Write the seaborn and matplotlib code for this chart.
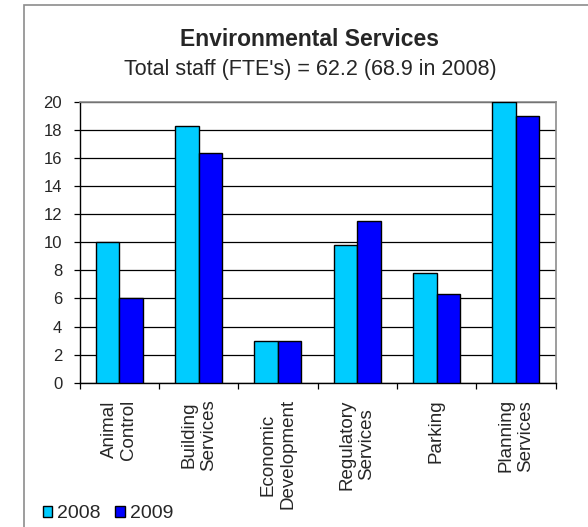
import matplotlib
matplotlib.use("Agg")
import matplotlib.pyplot as plt
from matplotlib.patches import Rectangle
from matplotlib.ticker import MultipleLocator, FixedLocator
import seaborn as sns
import pandas as pd

# Staff (FTE) by service area
categories = ["Animal\nControl", "Building\nServices", "Economic\nDevelopment",
              "Regulatory\nServices", "Parking", "Planning\nServices"]
years = ["2008", "2009"]
fte_2008 = [10.0, 18.3, 3.0, 9.8, 7.8, 20.0]
fte_2009 = [6.0, 16.4, 3.0, 11.5, 6.3, 19.0]
year_colors = ["#00CCFF", "#0000FF"]

title = "Environmental Services"
subtitle = "Total staff (FTE's) = 62.2 (68.9 in 2008)"

df = pd.DataFrame({
    "service": categories * 2,
    "year": [years[0]] * len(categories) + [years[1]] * len(categories),
    "fte": fte_2008 + fte_2009,
})

sns.set_style("white")
plt.rcParams["font.family"] = ["Liberation Sans", "DejaVu Sans"]

W, H = 588, 527
fig = plt.figure(figsize=(W / 100, H / 100), dpi=100)

# outer chart frame (left and top edges inside the canvas)
fig.add_artist(Rectangle((24 / W, -0.1), 1.2, 1.1 - 5 / H,
                         transform=fig.transFigure, fill=False,
                         edgecolor="#8c8c8c", linewidth=1.2, clip_on=False))

ax = fig.add_axes([79.5 / W, 1 - 382.7 / H, 476 / W, 280.7 / H])

sns.barplot(data=df, x="service", y="fte", hue="year", order=categories,
            hue_order=years, palette=year_colors, width=0.59, gap=0,
            edgecolor="black", linewidth=1.0, saturation=1, ax=ax, zorder=3)

ax.set_xlim(-0.5, len(categories) - 0.5)
ax.set_ylim(0, 20)
ax.yaxis.set_major_locator(MultipleLocator(2))
ax.grid(axis="y", color="black", linewidth=0.9, zorder=0)
ax.set_axisbelow(True)
ax.set_xlabel("")
ax.set_ylabel("")

for side in ("top", "right"):
    ax.spines[side].set_color("#8c8c8c")
    ax.spines[side].set_linewidth(1.2)
for side in ("left", "bottom"):
    ax.spines[side].set_color("black")
    ax.spines[side].set_linewidth(1.0)

ax.tick_params(axis="y", direction="out", length=4.5, width=0.9,
               color="black", labelsize=12, pad=8, left=True)
ax.tick_params(axis="x", which="major", length=0, pad=12, labelsize=13.5)
ax.xaxis.set_minor_locator(FixedLocator([i - 0.5 for i in range(len(categories) + 1)]))
ax.tick_params(axis="x", which="minor", direction="out", length=4.5,
               width=0.9, color="black", bottom=True)

for lab in ax.get_xticklabels():
    lab.set_rotation(90)
    lab.set_ha("center")
    lab.set_va("top")
    lab.set_multialignment("center")

fig.text(310 / W, 1 - 46 / H, title, ha="center", va="baseline",
         fontsize=16.5, fontweight="bold")
fig.text(310 / W, 1 - 75 / H, subtitle, ha="center", va="baseline",
         fontsize=15.5)

handles, labels = ax.get_legend_handles_labels()
ax.legend_.remove()
fig.legend(handles, labels, loc="lower left", bbox_to_anchor=(29 / W, -9 / H),
           bbox_transform=fig.transFigure, ncol=2, frameon=False,
           fontsize=14, handlelength=0.5, handleheight=0.5,
           handletextpad=0.25, columnspacing=0.75, borderpad=0.2)

fig.savefig("out.png", dpi=100)
